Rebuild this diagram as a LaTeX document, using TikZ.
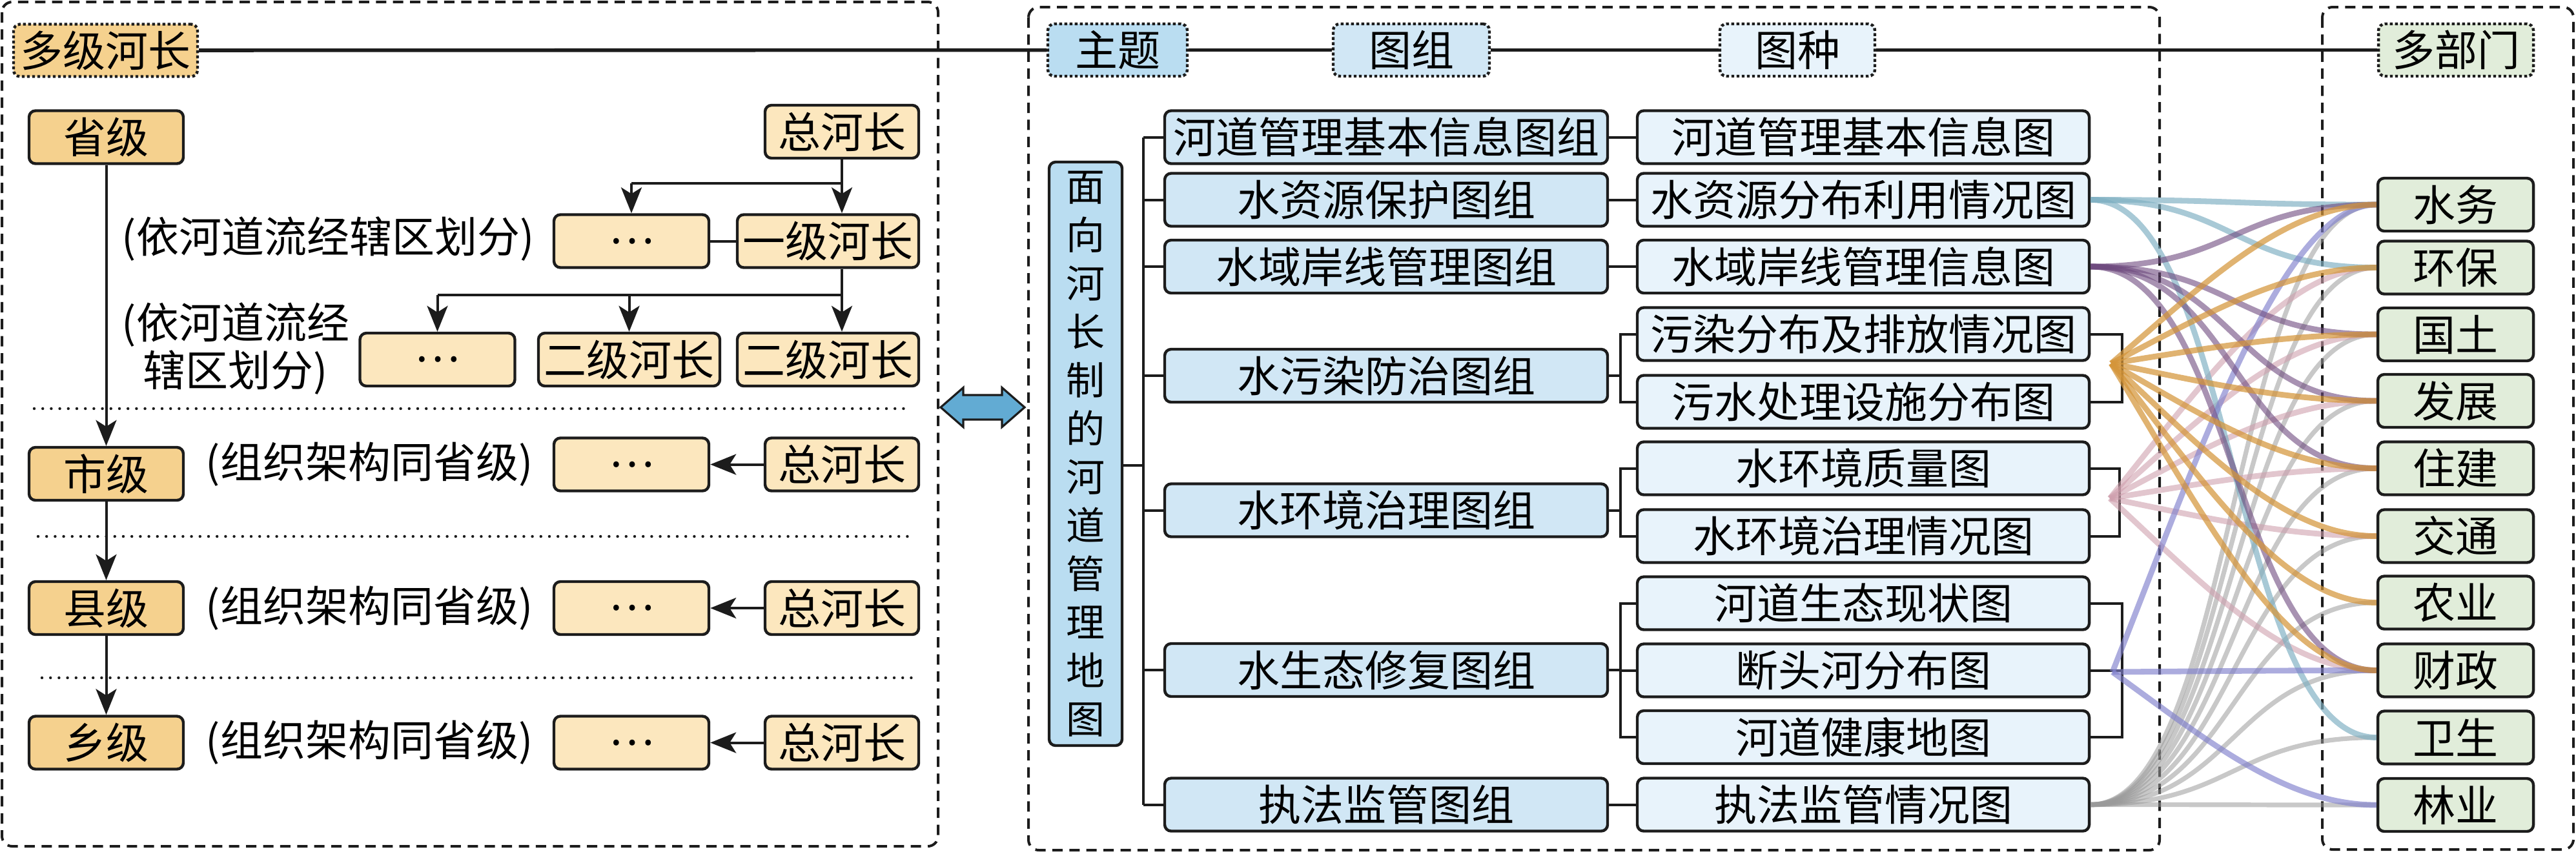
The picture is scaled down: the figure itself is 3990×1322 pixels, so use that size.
\documentclass[tikz,border=0pt]{standalone}
\usepackage{fontspec}
\setmainfont{Noto Sans CJK SC}
\usetikzlibrary{arrows.meta,calc}
\definecolor{bdr}{HTML}{1C1C1C}
\definecolor{orD}{HTML}{F5D18E}
\definecolor{orL}{HTML}{FCE7BE}
\definecolor{blA}{HTML}{BADDF1}
\definecolor{blB}{HTML}{D1E7F5}
\definecolor{blC}{HTML}{E8F3FB}
\definecolor{grn}{HTML}{E1EDDA}
\definecolor{arrb}{HTML}{62ABD3}
\definecolor{cTeal}{HTML}{7FB0C2}
\definecolor{cPurp}{HTML}{6E4A7E}
\definecolor{cOra}{HTML}{D4953A}
\definecolor{cPink}{HTML}{CFA0AE}
\definecolor{cBlue}{HTML}{8080CC}
\definecolor{cGrey}{HTML}{9A9A9A}
\newcommand\slink[3]{\draw[#1] (#2) .. controls +(223,0) and +(-223,0) .. (#3);}
\newcommand\flink[3]{\draw[#1] let \p1=(#2), \p2=(#3) in (\p1) .. controls ({\x1+0.35*(\x2-\x1)},{\y1+0.5*(\y2-\y1)}) and ({\x2-0.35*(\x2-\x1)},{\y2}) .. (\p2);}
\begin{document}
\begin{tikzpicture}[x=0.25pt,y=-0.25pt,
 box/.style={draw=bdr,line width=1.1pt,rounded corners=2.5pt,inner sep=0pt,minimum height=20.5pt,font=\fontsize{16.5pt}{19pt}\selectfont},
 hdr/.style={box,dash pattern=on 1.1pt off 0.9pt,minimum height=20.25pt},
 lvl/.style={box,fill=orD,minimum width=59.75pt},
 sub/.style={box,fill=orL,minimum width=60pt},
 subw/.style={box,fill=orL,minimum width=70.25pt},
 grp/.style={box,fill=blB,minimum width=171.5pt},
 mapb/.style={box,fill=blC,minimum width=175pt},
 dept/.style={box,fill=grn,minimum width=60.25pt},
 txt/.style={inner sep=0pt,font=\fontsize{16.5pt}{18.5pt}\selectfont},
 ln/.style={draw=bdr,line width=1pt},
 arr/.style={ln,-{Stealth[length=10pt,width=8pt,inset=2.5pt]}},
 hln/.style={draw=bdr,line width=1.4pt},
 sep/.style={draw=bdr,line width=1.1pt,line cap=round,dash pattern=on 0pt off 3.3pt},
 panel/.style={draw=bdr,line width=1pt,dash pattern=on 4pt off 2.6pt,rounded corners=4pt},
 lk/.style={line width=2.2pt,draw opacity=0.68},
 lkTeal/.style={lk,draw=cTeal},
 lkPurp/.style={lk,draw=cPurp,draw opacity=0.6},
 lkOra/.style={lk,draw=cOra,draw opacity=0.72},
 lkPink/.style={lk,draw=cPink,draw opacity=0.6},
 lkBlue/.style={lk,draw=cBlue,draw opacity=0.65},
 lkGrey/.style={lk,draw=cGrey,line width=1.8pt,draw opacity=0.55}]
\useasboundingbox (0,0) rectangle (3990,1322);

% panels
\draw[panel] (3,3) rectangle (1453,1311);
\draw[panel] (1593,11) rectangle (3345,1317);
\draw[panel] (3597,11) rectangle (3986,1316);

% headers
\node[hdr,fill=orD,minimum width=71.25pt] (hl) at (163.5,78) {多级河长};
\node[hdr,fill=blA,minimum width=54pt] (zt) at (1731,77.5) {主题};
\node[hdr,fill=blB,minimum width=60.5pt] (tz) at (2186,77.5) {图组};
\node[hdr,fill=blC,minimum width=60pt] (tzh) at (2784,77.5) {图种};
\node[hdr,fill=grn,minimum width=60pt] (dbm) at (3804,77.5) {多部门};
\draw[hln] (hl) -- (zt);
\draw[hln] (zt) -- (tz);
\draw[hln] (tz) -- (tzh);
\draw[hln] (tzh) -- (dbm);

% left panel
\node[lvl] (sheng) at (164.5,212.5) {省级};
\node[lvl] (shi) at (164.5,734) {市级};
\node[lvl] (xian) at (164.5,942) {县级};
\node[lvl] (xiang) at (164.5,1150.5) {乡级};
\node[sub,minimum width=59.5pt] (z1) at (1304,204) {总河长};
\node[sub] (d1) at (978,373.5) {…};
\node[subw] (y1) at (1282.5,373.5) {一级河长};
\node[sub] (d2) at (677.5,557) {…};
\node[subw] (e1) at (974.5,557) {二级河长};
\node[subw] (e2) at (1282.5,557) {二级河长};
\node[sub] (d3) at (978,719.5) {…};
\node[sub,minimum width=59.5pt] (z2) at (1304,719.5) {总河长};
\node[sub] (d4) at (978,942) {…};
\node[sub,minimum width=59.5pt] (z3) at (1304,942) {总河长};
\node[sub] (d5) at (978,1150.5) {…};
\node[sub,minimum width=59.5pt] (z4) at (1304,1150.5) {总河长};

\node[txt,anchor=west] (t1) at (188,370) {(依河道流经辖区划分)};
\node[txt,anchor=west,align=center] (t2) at (188,540) {(依河道流经\\辖区划分)};
\node[txt,anchor=west] (t3) at (318,719) {(组织架构同省级)};
\node[txt,anchor=west] (t4) at (318,942) {(组织架构同省级)};
\node[txt,anchor=west] (t5) at (318,1150) {(组织架构同省级)};

\draw[arr] (sheng) -- (shi);
\draw[arr] (shi) -- (xian);
\draw[arr] (xian) -- (xiang);

\coordinate (b1) at (1304,284);
\coordinate (b1l) at (978,284);
\draw[ln] (z1.south) -- (b1) -- (b1l);
\draw[arr] (b1) -- (b1 |- y1.north);
\draw[arr] (b1l) -- (d1.north);
\draw[ln] (d1) -- (y1);
\coordinate (b2) at (1304,457);
\coordinate (b2l) at (677.5,457);
\draw[ln] (b1 |- y1.south) -- (b2) -- (b2l);
\draw[arr] (b2) -- (b2 |- e2.north);
\draw[arr] (b2 -| e1) -- (e1.north);
\draw[arr] (b2l) -- (d2.north);
\draw[arr] (z2) -- (d3);
\draw[arr] (z3) -- (d4);
\draw[arr] (z4) -- (d5);

\draw[sep] (53,633) -- (1402,633);
\draw[sep] (59,831) -- (1411,831);
\draw[sep] (65,1050) -- (1423,1050);

% double arrow
\draw[fill=arrb,draw=bdr,line width=0.8pt,line join=miter]
 (1457,631) -- (1492,600.5) -- (1492,612) -- (1552,612) -- (1552,600.5) -- (1587,631)
 -- (1552,661.5) -- (1552,650) -- (1492,650) -- (1492,661.5) -- cycle;

% middle panel
\node[box,fill=blA,minimum width=28.25pt,minimum height=226pt,align=center,font=\fontsize{15pt}{18.75pt}\selectfont] (vt) at (1681.5,703)
 {面\\向\\河\\长\\制\\的\\河\\道\\管\\理\\地\\图};

\node[grp] (g1) at (2147,212.5) {河道管理基本信息图组};
\node[grp] (g2) at (2147,309.5) {水资源保护图组};
\node[grp] (g3) at (2147,413) {水域岸线管理图组};
\node[grp] (g4) at (2147,582) {水污染防治图组};
\node[grp] (g5) at (2147,790.5) {水环境治理图组};
\node[grp] (g6) at (2147,1038) {水生态修复图组};
\node[grp] (g7) at (2147,1246.5) {执法监管图组};

\node[mapb] (m1) at (2886,212.5) {河道管理基本信息图};
\node[mapb] (m2) at (2886,309.5) {水资源分布利用情况图};
\node[mapb] (m3) at (2886,413) {水域岸线管理信息图};
\node[mapb] (m4) at (2886,517.5) {污染分布及排放情况图};
\node[mapb] (m5) at (2886,622.5) {污水处理设施分布图};
\node[mapb] (m6) at (2886,725.5) {水环境质量图};
\node[mapb] (m7) at (2886,830.5) {水环境治理情况图};
\node[mapb] (m8) at (2886,934.5) {河道生态现状图};
\node[mapb] (m9) at (2886,1038.5) {断头河分布图};
\node[mapb] (m10) at (2886,1142) {河道健康地图};
\node[mapb] (m11) at (2886,1246.5) {执法监管情况图};

\coordinate (tk1) at (1771,212.5);
\coordinate (tk7) at (1771,1246.5);
\coordinate (vtj) at (1771,721);
\draw[ln] (tk1) -- (tk7);
\draw[ln] (vt.east |- vtj) -- (vtj);
\foreach \g in {g1,g2,g3,g4,g5,g6,g7}{\draw[ln] (\g.west -| tk1) -- (\g.west);}

\draw[ln] (g1.east) -- (g1.east -| m1.west);
\draw[ln] (g2.east) -- (g2.east -| m2.west);
\draw[ln] (g3.east) -- (g3.east -| m3.west);
\draw[ln] (g7.east) -- (g7.east -| m11.west);
\coordinate (k) at (2510,0);
\draw[ln] (g4.east) -- (g4.east -| k);
\draw[ln] (m4.west) -- (m4.west -| k) -- (m5.west -| k) -- (m5.west);
\draw[ln] (g5.east) -- (g5.east -| k);
\draw[ln] (m6.west) -- (m6.west -| k) -- (m7.west -| k) -- (m7.west);
\draw[ln] (g6.east) -- (g6.east -| k);
\draw[ln] (m8.west) -- (m8.west -| k) -- (m10.west -| k) -- (m10.west);
\draw[ln] (m9.west -| k) -- (m9.west);

\coordinate (ra) at (3287,0);
\coordinate (rb) at (3283,0);
\draw[ln] (m4.east) -- (m4.east -| ra) -- (m5.east -| ra) -- (m5.east);
\draw[ln] (m6.east) -- (m6.east -| rb) -- (m7.east -| rb) -- (m7.east);
\draw[ln] (m8.east) -- (m8.east -| ra) -- (m10.east -| ra) -- (m10.east);
\draw[ln] (m9.east) -- (m9.east -| ra);

\coordinate (f1) at (3270,563);
\coordinate (f2) at (3268,772);
\coordinate (f3) at (3272,1041);

% right panel
\node[dept] (p1) at (3803.5,317) {水务};
\node[dept] (p2) at (3803.5,414.5) {环保};
\node[dept] (p3) at (3803.5,518) {国土};
\node[dept] (p4) at (3803.5,621) {发展};
\node[dept] (p5) at (3803.5,725.5) {住建};
\node[dept] (p6) at (3803.5,830.5) {交通};
\node[dept] (p7) at (3803.5,933.5) {农业};
\node[dept] (p8) at (3803.5,1038.5) {财政};
\node[dept] (p9) at (3803.5,1142.5) {卫生};
\node[dept] (p10) at (3803.5,1247) {林业};

% links
\foreach \dd in {p1,p2,p3,p4,p5,p6,p7,p8,p9,p10}{\slink{lkGrey}{m11.east}{\dd.west}}
\foreach \dd in {p2,p3,p4,p5,p6,p8}{\flink{lkPink}{f2}{\dd.west}}
\foreach \dd in {p1,p2,p9}{\slink{lkTeal}{m2.east}{\dd.west}}
\foreach \dd in {p1,p8,p10}{\flink{lkBlue}{f3}{\dd.west}}
\foreach \dd in {p1,p3,p4,p5,p8}{\slink{lkPurp}{m3.east}{\dd.west}}
\foreach \dd in {p1,p2,p3,p4,p5,p6,p7,p8}{\flink{lkOra}{f1}{\dd.west}}
\end{tikzpicture}
\end{document}
